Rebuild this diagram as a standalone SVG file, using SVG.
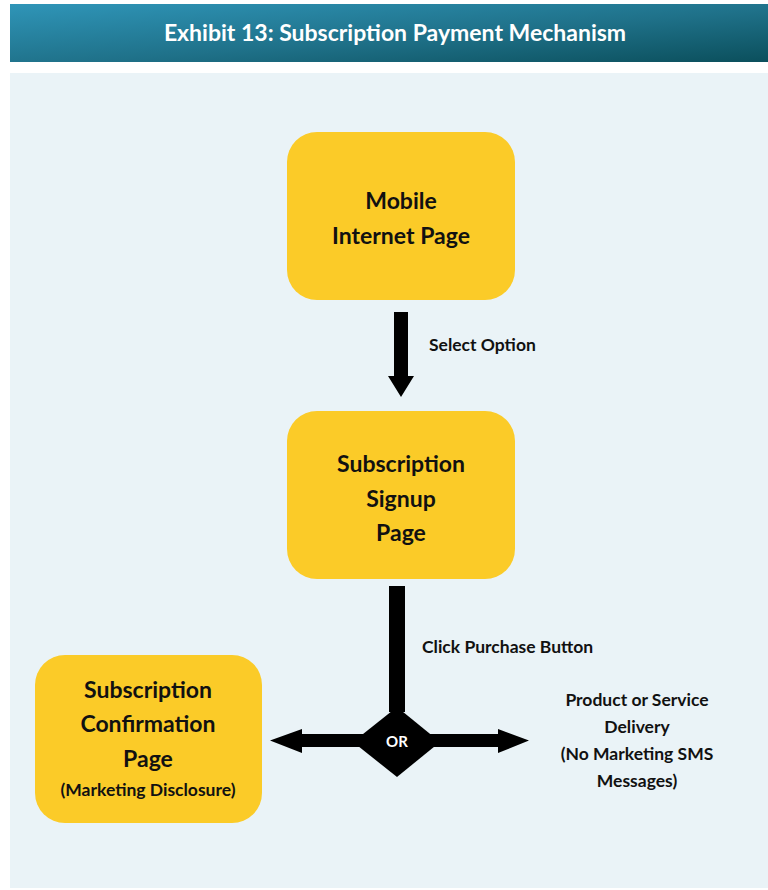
<svg xmlns="http://www.w3.org/2000/svg" width="768" height="890" viewBox="0 0 768 890">
<defs>
<linearGradient id="hdr" x1="0" y1="0" x2="1" y2="1">
<stop offset="0" stop-color="#2f95b8"/>
<stop offset="0.55" stop-color="#1f7189"/>
<stop offset="1" stop-color="#0b4f5c"/>
</linearGradient>
<style>
.box{fill:#fbcb28;}
.t{font-family:Lato,"Open Sans",sans-serif;font-weight:bold;fill:#111;text-anchor:middle;}
.big{font-size:23px;}
.sm{font-size:17.5px;}
.lbl{font-family:Lato,"Open Sans",sans-serif;font-weight:bold;fill:#111;font-size:17.5px;}
</style>
</defs>
<rect width="768" height="890" fill="#ffffff"/>
<rect x="10" y="4" width="758" height="58" fill="url(#hdr)"/>
<text x="395" y="41" text-anchor="middle" style="font-family:Lato,'Open Sans',sans-serif;font-weight:bold;font-size:23px;fill:#ffffff">Exhibit 13: Subscription Payment Mechanism</text>
<rect x="10" y="73" width="758" height="815" fill="#eaf3f7"/>
<g id="connectors">
<polygon points="394,312 408,312 408,376 414,376 401,397 388,376 394,376" fill="#000"/>
<text class="lbl" x="429" y="351">Select Option</text>
<rect x="389" y="586" width="16" height="126" fill="#000"/>
<polygon points="302,734 498,734 498,729 529,740.5 498,753 498,747 302,747 302,753 270,740.5 302,729" fill="#000"/>
<text class="lbl" x="422" y="653">Click Purchase Button</text>
</g>
<g id="or">
<polygon points="397,707 440,742 397,777 353,742" fill="#000"/>
<text x="397" y="747" text-anchor="middle" style="font-family:Lato,'Open Sans',sans-serif;font-weight:bold;font-size:15px;fill:#fff">OR</text>
</g>
<g id="mobile">
<rect class="box" x="287" y="132" width="228" height="168" rx="30"/>
<text class="t big" x="401" y="209">Mobile</text>
<text class="t big" x="401" y="244">Internet Page</text>
</g>
<g id="signup">
<rect class="box" x="287" y="411" width="228" height="168" rx="30"/>
<text class="t big" x="401" y="472">Subscription</text>
<text class="t big" x="401" y="507">Signup</text>
<text class="t big" x="401" y="541">Page</text>
</g>
<g id="confirm">
<rect class="box" x="35" y="655" width="227" height="168" rx="30"/>
<text class="t big" x="148" y="698">Subscription</text>
<text class="t big" x="148" y="732">Confirmation</text>
<text class="t big" x="148" y="767">Page</text>
<text class="t sm" x="148" y="796">(Marketing Disclosure)</text>
</g>
<g id="delivery">
<text class="t sm" x="637" y="706">Product or Service</text>
<text class="t sm" x="637" y="733">Delivery</text>
<text class="t sm" x="637" y="760">(No Marketing SMS</text>
<text class="t sm" x="637" y="787">Messages)</text>
</g>
</svg>
